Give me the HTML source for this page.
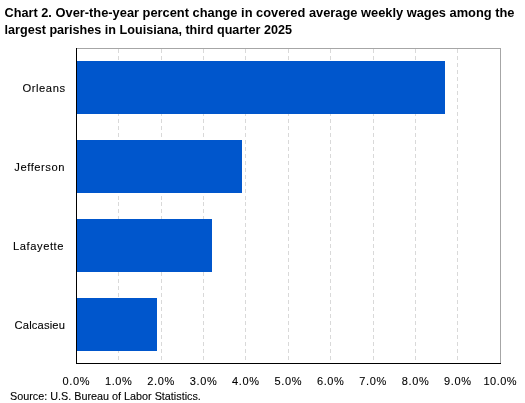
<!DOCTYPE html>
<html>
<head>
<meta charset="utf-8">
<style>
html,body{margin:0;padding:0;background:#fff;width:525px;height:403px;overflow:hidden;}
svg{display:block;will-change:transform;}
text{font-family:"Liberation Sans",sans-serif;fill:#000;-webkit-font-smoothing:antialiased;}
.t{font-weight:bold;font-size:12.7px;}
.c{font-size:11.2px;fill:#000;stroke:#000;stroke-width:0.1px;}
.x{font-size:11px;fill:#000;stroke:#000;stroke-width:0.1px;}
.s{font-size:10.8px;fill:#000;stroke:#000;stroke-width:0.1px;}
</style>
</head>
<body>
<svg width="525" height="403" viewBox="0 0 525 403" shape-rendering="crispEdges">
<rect x="0" y="0" width="525" height="403" fill="#fff"/>
<text class="t" x="4.5" y="17">Chart 2.</text>
<text class="t" x="55.5" y="17" textLength="459" lengthAdjust="spacingAndGlyphs">Over-the-year percent change in covered average weekly wages among the</text>
<text class="t" x="4.5" y="34" textLength="287.5" lengthAdjust="spacingAndGlyphs">largest parishes in Louisiana, third quarter 2025</text>

<!-- plot border top/right -->
<rect x="76" y="48" width="425" height="1" fill="#a6a6a6"/>
<rect x="500" y="48" width="1" height="316" fill="#a6a6a6"/>

<!-- gridlines -->
<g stroke="#d9d9d9" stroke-width="1" stroke-dasharray="3.987 2.99">
<line x1="118.5" y1="49" x2="118.5" y2="363"/>
<line x1="161.5" y1="49" x2="161.5" y2="363"/>
<line x1="203.5" y1="49" x2="203.5" y2="363"/>
<line x1="245.5" y1="49" x2="245.5" y2="363"/>
<line x1="288.5" y1="49" x2="288.5" y2="363"/>
<line x1="330.5" y1="49" x2="330.5" y2="363"/>
<line x1="373.5" y1="49" x2="373.5" y2="363"/>
<line x1="415.5" y1="49" x2="415.5" y2="363"/>
<line x1="457.5" y1="49" x2="457.5" y2="363"/>
</g>

<!-- bars -->
<g fill="#0056cc">
<rect x="77" y="61" width="368" height="53"/>
<rect x="77" y="140" width="165" height="53"/>
<rect x="77" y="219" width="135" height="53"/>
<rect x="77" y="298" width="80" height="53"/>
</g>

<!-- axes -->
<rect x="76" y="48" width="1" height="316" fill="#000"/>
<rect x="76" y="363" width="425" height="1" fill="#000"/>

<!-- category labels -->
<text class="c" x="65" y="92" text-anchor="end" textLength="42.5" lengthAdjust="spacing">Orleans</text>
<text class="c" x="64.5" y="171" text-anchor="end" textLength="50.2" lengthAdjust="spacing">Jefferson</text>
<text class="c" x="63.5" y="250" text-anchor="end" textLength="50.5" lengthAdjust="spacing">Lafayette</text>
<text class="c" x="65" y="329" text-anchor="end" textLength="50.5" lengthAdjust="spacing">Calcasieu</text>

<!-- x labels -->
<g class="x" text-anchor="middle">
<text class="x" x="76" y="385" textLength="27" lengthAdjust="spacing">0.0%</text>
<text class="x" x="118.4" y="385" textLength="27" lengthAdjust="spacing">1.0%</text>
<text class="x" x="160.8" y="385" textLength="27" lengthAdjust="spacing">2.0%</text>
<text class="x" x="203.2" y="385" textLength="27" lengthAdjust="spacing">3.0%</text>
<text class="x" x="245.6" y="385" textLength="27" lengthAdjust="spacing">4.0%</text>
<text class="x" x="288" y="385" textLength="27" lengthAdjust="spacing">5.0%</text>
<text class="x" x="330.4" y="385" textLength="27" lengthAdjust="spacing">6.0%</text>
<text class="x" x="372.8" y="385" textLength="27" lengthAdjust="spacing">7.0%</text>
<text class="x" x="415.2" y="385" textLength="27" lengthAdjust="spacing">8.0%</text>
<text class="x" x="457.6" y="385" textLength="27" lengthAdjust="spacing">9.0%</text>
<text class="x" x="500" y="385" textLength="33" lengthAdjust="spacing">10.0%</text>
</g>

<text class="s" x="10" y="399.5">Source: U.S. Bureau of Labor Statistics.</text>
</svg>
</body>
</html>
